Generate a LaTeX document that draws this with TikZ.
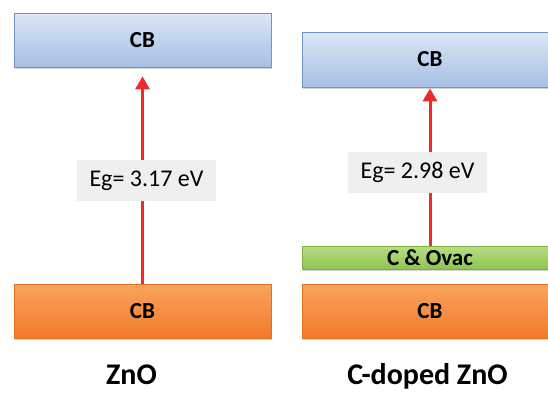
\documentclass[tikz,border=0pt]{standalone}
\usepackage{fontspec}
\setmainfont{Carlito}
\usetikzlibrary{arrows.meta,shadows}
\definecolor{cbtop}{HTML}{DCE6F4}
\definecolor{cbbot}{HTML}{A6C0E5}
\definecolor{cbline}{HTML}{7193C6}
\definecolor{vbtop}{HTML}{F9A25E}
\definecolor{vbbot}{HTML}{F07C2A}
\definecolor{vbline}{HTML}{E0701E}
\definecolor{lvtop}{HTML}{B9DE82}
\definecolor{lvbot}{HTML}{8DC452}
\definecolor{lvline}{HTML}{7BAF3E}
\definecolor{gapred}{HTML}{EE2B2B}
\definecolor{tagfill}{HTML}{EFEFEF}
\tikzset{
  band/.style={rectangle, inner sep=0pt, line width=0.6pt,
    drop shadow={shadow xshift=1.2pt, shadow yshift=-2pt, opacity=0.35},
    font=\fontsize{23}{25}\selectfont\bfseries},
  cband/.style={band, draw=cbline, top color=cbtop, bottom color=cbbot},
  vband/.style={band, draw=vbline, top color=vbtop, bottom color=vbbot},
  lband/.style={band, draw=lvline, top color=lvtop, bottom color=lvbot},
  gaptag/.style={rectangle, fill=tagfill, inner sep=0pt, minimum width=139pt,
    minimum height=41pt, font=\fontsize{24}{26}\selectfont},
  title/.style={inner sep=0pt, anchor=base, font=\fontsize{30}{33}\selectfont\bfseries},
  gaparrow/.style={draw=gapred, line width=3pt,
    -{Triangle[width=14pt,length=13pt]}}
}
\begin{document}
\begin{tikzpicture}[x=1pt,y=-1pt]
\useasboundingbox (0,0) rectangle (548,392);
\clip (0,0) rectangle (548,392);
% undoped ZnO
\node[cband, minimum width=257pt, minimum height=54pt] (cbA) at (142.5,40) {CB};
\node[vband, minimum width=257pt, minimum height=54pt] (vbA) at (142.5,311) {CB};
\draw[gaparrow, shorten >=9pt] (vbA.north) -- (cbA.south);
\node[gaptag] (egA) at (146.5,180.5) {Eg= 3.17 eV};
\node[title] (nameA) at (131.5,384.5) {ZnO};
% carbon-doped ZnO
\node[cband, minimum width=256pt, minimum height=55pt] (cbB) at (430,59.5) {CB};
\node[vband, minimum width=256pt, minimum height=54pt] (vbB) at (430,311) {CB};
\node[lband, minimum width=256pt, minimum height=23pt] (lvB) at (430,257.5) {C \& Ovac};
\draw[gaparrow, shorten >=1pt] (lvB.north) -- (cbB.south);
\node[gaptag] (egB) at (417.5,172.5) {Eg= 2.98 eV};
\node[title] (nameB) at (427.5,384.5) {C-doped ZnO};
\end{tikzpicture}
\end{document}
